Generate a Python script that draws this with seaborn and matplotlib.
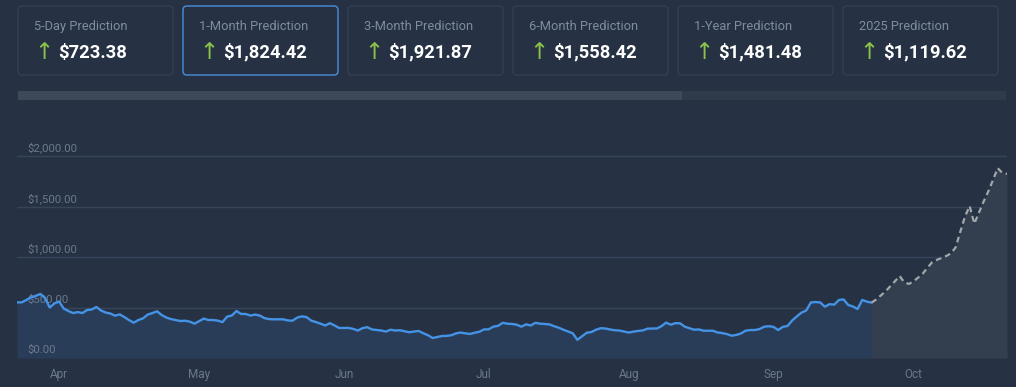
import numpy as np
import pandas as pd
import matplotlib
matplotlib.use("Agg")
import matplotlib.pyplot as plt
import matplotlib.dates as mdates
from matplotlib.patches import FancyBboxPatch, Rectangle
import seaborn as sns

# ---------------- data ----------------
card_titles = ["5-Day Prediction", "1-Month Prediction", "3-Month Prediction",
               "6-Month Prediction", "1-Year Prediction", "2025 Prediction"]
card_values = ["$723.38", "$1,824.42", "$1,921.87", "$1,558.42", "$1,481.48", "$1,119.62"]
selected_card = 1

hist_start = "2024-03-23"
hist_prices = [
    551, 551, 574, 600, 615, 634, 595, 500, 540, 560,
    490, 465, 445, 455, 445, 475, 480, 505, 470, 450,
    440, 419, 432, 405, 375, 350, 376, 393, 430, 445,
    462, 425, 400, 385, 375, 366, 369, 360, 340, 365,
    390, 376, 376, 370, 355, 410, 420, 465, 436, 436,
    420, 430, 420, 395, 385, 383, 383, 383, 372, 369,
    400, 412, 405, 370, 356, 340, 322, 345, 322, 297,
    297, 298, 288, 272, 296, 305, 283, 277, 272, 262,
    280, 272, 275, 265, 255, 262, 268, 245, 226, 198,
    208, 218, 219, 225, 244, 252, 244, 238, 250, 260,
    283, 284, 310, 318, 348, 340, 337, 330, 310, 333,
    322, 348, 340, 336, 333, 315, 300, 280, 262, 245,
    180, 215, 250, 257, 280, 295, 292, 282, 275, 272,
    262, 252, 261, 268, 273, 290, 292, 292, 315, 350,
    330, 345, 343, 310, 295, 280, 283, 270, 270, 270,
    253, 247, 237, 221, 228, 242, 270, 277, 277, 286,
    310, 315, 308, 277, 308, 317, 372, 412, 450, 470,
    550, 554, 550, 508, 533, 528, 574, 580, 525, 510,
    485, 575, 558, 548,
]
fc_start = "2024-09-22"
fc_prices = [548, 580, 620, 660, 710, 760, 812, 750, 733, 760,
             797, 838, 895, 950, 972, 990, 1010, 1036, 1095, 1250,
             1400, 1505, 1330, 1440, 1550, 1650, 1762, 1880, 1832, 1824]

y_ticks = [0, 500, 1000, 1500, 2000]

hist = pd.DataFrame({"date": pd.date_range(hist_start, periods=len(hist_prices), freq="D"),
                     "price": hist_prices})
fc = pd.DataFrame({"date": pd.date_range(fc_start, periods=len(fc_prices), freq="D"),
                   "price": fc_prices})

# ---------------- style ----------------
BG = "#263244"
CARD_EDGE = "#344052"
SEL_EDGE = "#4a8fd8"
TITLE_C = "#7f8ca0"
LABEL_C = "#6b788d"
GRID_C = "#37445a"
LINE_C = "#4493e6"
HIST_FILL = "#2a3d58"
FC_FILL = "#333e4e"
FC_LINE = "#a3a6aa"
ARROW_C = "#8bc34a"

sns.set_theme(style="dark")
plt.rcParams["font.family"] = ["Roboto", "DejaVu Sans"]

W, H = 1016, 387
fig = plt.figure(figsize=(W / 100, H / 100), dpi=100, facecolor=BG)

# overlay for cards and scrollbar (pixel coordinates)
ov = fig.add_axes([0, 0, 1, 1], zorder=0)
ov.set_xlim(0, W)
ov.set_ylim(H, 0)
ov.axis("off")
ov.set_facecolor("none")

card_w, card_h, card_step, card_x0, card_y0 = 155, 69, 165, 18, 6
for i, (t, v) in enumerate(zip(card_titles, card_values)):
    x0 = card_x0 + i * card_step
    edge = SEL_EDGE if i == selected_card else CARD_EDGE
    ov.add_patch(FancyBboxPatch((x0, card_y0), card_w, card_h,
                                boxstyle="round,pad=0,rounding_size=4",
                                facecolor=BG, edgecolor=edge, linewidth=1.0))
    ov.text(x0 + 16, 26.5, t, color=TITLE_C, fontsize=9.3, va="center", ha="left")
    ov.text(x0 + 26, 52.5, "\u2191", color=ARROW_C, fontsize=16.5, va="center", ha="center",
            family=["DejaVu Sans"])
    ov.text(x0 + 40, 52.5, v, color="#ffffff", fontsize=13.2, fontweight="bold",
            va="center", ha="left")

# scrollbar
ov.add_patch(Rectangle((18, 91), 988, 9, facecolor="#303a4a", edgecolor="none"))
ov.add_patch(Rectangle((18, 91), 664, 9, facecolor="#3e4859", edgecolor="none"))

# ---------------- chart ----------------
ax_l, ax_r, ax_t, ax_b = 17, 1007, 130, 358
ax = fig.add_axes([ax_l / W, (H - ax_b) / H, (ax_r - ax_l) / W, (ax_b - ax_t) / H], zorder=1)
ax.set_facecolor("none")

px_per_dollar = (358 - 156) / 2000
ax.set_ylim(0, (ax_b - ax_t) / px_per_dollar)
ax.set_xlim(hist["date"].iloc[0], fc["date"].iloc[-1])

for v in y_ticks[1:]:
    ax.axhline(v, color=GRID_C, lw=1.0, zorder=0)

ax.fill_between(hist["date"], hist["price"], 0, color=HIST_FILL, lw=0, zorder=1)
ax.fill_between(fc["date"], fc["price"], 0, color=FC_FILL, lw=0, zorder=1)

for v in y_ticks:
    ax.annotate(f"${v:,.2f}", xy=(10 / (ax_r - ax_l), v), xycoords=("axes fraction", "data"),
                xytext=(0, 2), textcoords="offset points", color=LABEL_C, fontsize=8.2,
                ha="left", va="bottom", zorder=2)

sns.lineplot(data=hist, x="date", y="price", ax=ax, color=LINE_C, linewidth=1.7, zorder=3)
sns.lineplot(data=fc, x="date", y="price", ax=ax, color=FC_LINE, linewidth=1.6,
             linestyle=(0, (2.6, 1.8)), zorder=3)

ax.xaxis.set_major_locator(mdates.MonthLocator())
ax.xaxis.set_major_formatter(mdates.DateFormatter("%b"))
ax.tick_params(axis="x", length=0, pad=7.5, colors=LABEL_C, labelsize=8.5)
ax.set_yticks([])
ax.set_xlabel("")
ax.set_ylabel("")
ax.grid(False)
for s in ax.spines.values():
    s.set_visible(False)

fig.savefig("out.png", dpi=100, facecolor=BG)
